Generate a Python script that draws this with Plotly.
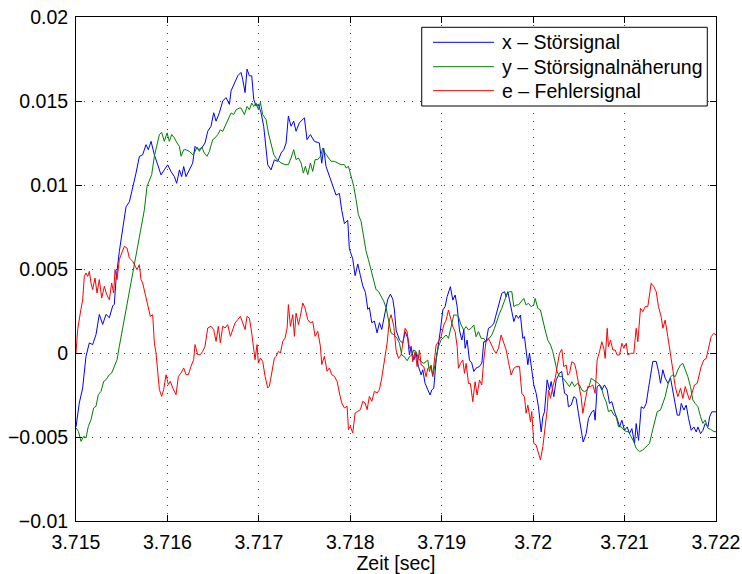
import plotly.graph_objects as go

# Time axis: milliseconds after t0 = 3.715 s; signal values in units of 1e-3
t0 = 3.715

# x - Störsignal
t_x = [0.000, 0.036, 0.073, 0.109, 0.146, 0.182, 0.219, 0.255, 0.292, 0.328, 0.365, 0.401, 0.419, 0.438, 0.474,
       0.511, 0.547, 0.584, 0.620, 0.656, 0.693, 0.729, 0.766, 0.791, 0.821, 0.857, 0.894, 0.930, 0.966, 1.003,
       1.039, 1.076, 1.101, 1.131, 1.156, 1.178, 1.203, 1.240, 1.276, 1.302, 1.338, 1.375, 1.411, 1.441, 1.477,
       1.506, 1.532, 1.568, 1.605, 1.641, 1.678, 1.696, 1.732, 1.769,
       1.805, 1.823, 1.849, 1.871, 1.896, 1.922, 1.944, 1.969, 1.995, 2.024, 2.053, 2.079, 2.097, 2.133, 2.170,
       2.206, 2.243, 2.272, 2.298, 2.323, 2.352, 2.381, 2.407, 2.443, 2.498, 2.527, 2.564, 2.607, 2.662, 2.688,
       2.709, 2.735, 2.771, 2.808, 2.844, 2.881, 2.906, 2.936, 2.972, 2.990, 3.027, 3.053, 3.082, 3.111, 3.136,
       3.166, 3.191, 3.209, 3.235, 3.264, 3.293, 3.319, 3.344, 3.373, 3.410, 3.439, 3.465,
       3.483, 3.501, 3.538, 3.574, 3.600, 3.629, 3.647, 3.665, 3.694, 3.720, 3.745, 3.775, 3.793, 3.818, 3.848,
       3.873, 3.891, 3.913, 3.939, 3.964, 3.986, 4.012, 4.037, 4.059, 4.084, 4.095, 4.121, 4.147, 4.169, 4.194,
       4.220, 4.242, 4.256, 4.278, 4.303, 4.329, 4.351, 4.376, 4.413, 4.439, 4.460, 4.486, 4.511, 4.541, 4.570,
       4.595, 4.632, 4.657, 4.687, 4.705, 4.723, 4.741, 4.767, 4.789, 4.814, 4.840, 4.861, 4.887, 4.905, 4.923,
       4.942, 4.960, 4.986, 5.007, 5.033, 5.058, 5.088, 5.106, 5.124, 5.153, 5.179, 5.197, 5.226, 5.252,
       5.288, 5.313, 5.343, 5.372, 5.386, 5.416, 5.445, 5.470, 5.496, 5.525, 5.547, 5.580, 5.605, 5.642, 5.664,
       5.678, 5.700, 5.726, 5.751, 5.780, 5.810, 5.835, 5.861, 5.890, 5.919, 5.945, 5.970, 5.999, 6.029, 6.054,
       6.080, 6.109, 6.127, 6.153, 6.182, 6.211, 6.237, 6.262, 6.291, 6.309, 6.346, 6.372, 6.393, 6.419, 6.444,
       6.474, 6.503, 6.528, 6.554, 6.576, 6.601, 6.620, 6.649, 6.674, 6.700, 6.729, 6.758, 6.784, 6.802, 6.831,
       6.857, 6.882, 6.912, 6.930, 6.955, 6.984, 7.000]
v_x = [-4.4, -2.98, -2.08, -0.2, 0.6, 0.5, 1.1, 2.3, 1.7, 2.3, 2.1, 2.8, 2.9, 4.4, 6.05,
       7.3, 8.7, 9.0, 9.8, 10.7, 11.7, 11.8, 12.4, 12.1, 12.6, 11.8, 11.2, 10.6, 10.9, 11.2,
       10.8, 10.5, 10.1, 10.9, 10.5, 11.1, 10.5, 10.9, 11.3, 12.3, 12.1, 12.2, 12.5, 13.2, 13.5,
       14.3, 13.8, 14.3, 15.0, 15.2, 14.8, 15.6, 16.1, 16.5,
       16.7, 16.3, 15.5, 16.9, 16.5, 16.5, 15.1, 14.7, 14.8, 14.3, 13.5, 12.1, 11.2, 10.9, 11.5,
       11.4, 11.9, 12.1, 12.5, 14.1, 13.5, 13.8, 13.2, 13.7, 14.0, 12.7, 13.0, 12.6, 12.5, 11.3,
       12.2, 11.1, 10.5, 9.9, 9.4, 9.5, 8.5, 7.7, 7.9, 6.2, 5.6, 4.6, 5.3, 4.6, 4.0,
       3.6, 2.6, 2.7, 1.8, 1.9, 1.2, 1.8, 1.4, 2.2, 3.2, 3.5, 3.2,
       2.56, 1.37, 0.77, 0.58, 1.27, 0.87, -0.12, 0.38, -0.42, 0.0, -0.8, -1.3, -1.0, -1.8, -2.2,
       -2.5, -2.2, -2.1, -0.42, 0.48, 1.37, 2.56, 2.76, 3.35, 3.85, 3.95, 3.15, 3.45, 2.76, 1.37,
       0.77, 1.37, 0.28, 0.77, -0.42, -0.6, -1.1, -0.9, -0.8, -0.6, 0.67, 0.67, 1.47, 1.57, 1.77,
       2.26, 3.15, 3.55, 3.65, 3.35, 3.65, 3.15, 2.46, 1.87, 2.26, 2.06, 2.26, 0.87, 0.97, 0.0,
       -0.7, 0.0, -1.0, -1.9, -2.4, -3.2, -4.7, -3.8, -3.5, -1.6, -2.2, -1.7, -2.6, -1.6,
       -1.2, -1.1, -2.4, -2.5, -3.2, -3.1, -2.6, -2.7, -3.6, -4.6, -5.3, -4.8, -3.9, -3.5, -3.4,
       -4.0, -2.0, -1.9, -2.2, -1.9, -2.2, -3.0, -2.9, -3.5, -3.9, -4.4, -4.0, -4.6, -4.4, -4.8,
       -4.5, -5.4, -4.2, -5.2, -3.2, -3.3, -3.0, -2.1, -1.0, -0.5, -0.5, -1.1, -1.8, -1.0, -1.5,
       -1.8, -1.5, -2.2, -3.0, -3.7, -3.7, -3.0, -3.4, -3.1, -3.9, -4.6, -4.4, -4.7, -4.4, -4.8,
       -4.6, -4.2, -4.4, -3.8, -3.5, -3.5, -3.5]

# y - Störsignalnäherung
t_y = [0.000, 0.026, 0.055, 0.084, 0.109, 0.135, 0.164, 0.193, 0.219, 0.244, 0.274, 0.303, 0.328, 0.365, 0.390,
       0.419, 0.449, 0.474, 0.500, 0.529, 0.558, 0.584, 0.609, 0.638, 0.667, 0.693, 0.718, 0.748, 0.777, 0.802,
       0.828, 0.857, 0.886, 0.912, 0.937, 0.966, 0.996, 1.021, 1.047, 1.076, 1.105, 1.131, 1.149, 1.178, 1.204,
       1.240, 1.276, 1.302, 1.324, 1.349, 1.375, 1.404, 1.433, 1.459, 1.495, 1.521, 1.550, 1.579, 1.605, 1.641,
       1.667, 1.696, 1.725, 1.751, 1.787,
       1.805, 1.842, 1.871, 1.896, 1.922, 1.944, 1.969, 1.995, 2.017, 2.042, 2.079, 2.104, 2.133, 2.163, 2.199,
       2.243, 2.287, 2.323, 2.352, 2.381, 2.407, 2.433, 2.462, 2.487, 2.509, 2.535, 2.564, 2.589, 2.615, 2.644,
       2.673, 2.699, 2.724, 2.753, 2.790, 2.826, 2.863, 2.899, 2.936, 2.954, 2.980, 3.009, 3.038, 3.063, 3.089,
       3.118, 3.147, 3.173, 3.198, 3.227, 3.257, 3.282, 3.308, 3.337, 3.366, 3.392, 3.417, 3.446, 3.476,
       3.512, 3.538, 3.563, 3.592, 3.621, 3.647, 3.673, 3.694, 3.720, 3.745, 3.775, 3.804, 3.829, 3.848, 3.866,
       3.884, 3.902, 3.921, 3.939, 3.964, 3.993, 4.023, 4.048, 4.074, 4.103, 4.132, 4.158, 4.183, 4.212, 4.241,
       4.267, 4.293, 4.322, 4.351, 4.376, 4.402, 4.431, 4.460, 4.486, 4.522, 4.548, 4.577, 4.606, 4.632, 4.657,
       4.686, 4.716, 4.741, 4.767, 4.789, 4.814, 4.840, 4.869, 4.898, 4.923, 4.949, 4.978, 5.007, 5.022, 5.051,
       5.080, 5.106, 5.131, 5.160, 5.190, 5.215, 5.241, 5.263, 5.288,
       5.314, 5.343, 5.372, 5.398, 5.423, 5.452, 5.481, 5.507, 5.532, 5.562, 5.591, 5.616, 5.635, 5.664, 5.689,
       5.715, 5.744, 5.773, 5.799, 5.824, 5.853, 5.883, 5.908, 5.934, 5.963, 5.992, 6.018, 6.043, 6.072, 6.101,
       6.127, 6.163, 6.200, 6.236, 6.273, 6.298, 6.327, 6.357, 6.393, 6.419, 6.444, 6.473, 6.503, 6.528, 6.554,
       6.583, 6.612, 6.638, 6.663, 6.692, 6.721, 6.747, 6.772, 6.802, 6.831, 6.856, 6.882, 6.911, 6.940, 6.977,
       7.000]
v_y = [-4.46, -4.66, -5.26, -4.96, -5.06, -4.37, -3.97, -3.27, -3.17, -2.48, -2.28, -1.69, -1.59, -1.29, -1.19,
       -0.79, -0.40, 0.40, 1.19, 1.98, 2.78, 3.57, 4.37, 5.16, 6.15, 6.94, 7.64, 8.53, 9.92, 10.32,
       10.62, 11.71, 12.50, 13.00, 13.13, 12.60, 13.10, 12.60, 13.00, 12.80, 12.50, 12.30, 11.71, 12.10, 12.10,
       12.00, 11.81, 12.00, 12.26, 12.00, 12.26, 11.90, 11.71, 12.00, 12.70, 12.80, 13.00, 13.29, 13.19, 13.59,
       13.89, 14.29, 14.19, 14.48, 14.58,
       14.58, 14.19, 14.68, 14.48, 14.88, 14.68, 14.88, 14.48, 14.92, 14.19, 13.89, 13.10, 12.40, 11.81, 11.51,
       11.31, 11.21, 11.21, 11.61, 12.10, 11.51, 11.61, 11.31, 10.71, 11.11, 10.62, 11.31, 10.81, 11.51, 11.51,
       11.71, 12.20, 11.90, 11.71, 11.41, 11.41, 11.31, 11.21, 11.21, 11.01, 11.11, 10.52, 9.92, 9.13, 8.23,
       7.84, 6.75, 6.05, 5.56, 4.96, 4.27, 3.77, 3.67, 3.37, 3.08, 2.68, 2.08, 1.19, 1.09,
       0.87, 0.58, -0.12, -0.22, -0.46, -0.22, -0.12, 0.18, 0.08, -0.32, -0.52, -0.62, -0.52, -0.42, -1.11,
       -0.71, -1.41, -0.81, -0.22, 0.38, 0.77, 0.97, 1.07, 0.87, 1.67, 2.26, 2.26, 2.16, 1.67, 1.37,
       1.57, 1.37, 1.47, 1.67, 0.97, 1.27, 0.87, 0.87, 0.67, 0.87, 1.07, 1.47, 1.96, 2.36, 2.66,
       3.15, 3.55, 3.65, 3.65, 2.76, 2.86, 2.86, 3.06, 3.25, 2.86, 2.96, 2.76, 2.86, 3.25, 2.66,
       2.56, 1.87, 1.37, 0.77, 0.48, 0.08, -0.52, -1.11, -1.41,
       -1.41, -1.61, -1.81, -2.00, -1.71, -2.00, -1.81, -1.90, -2.20, -2.30, -2.20, -1.90, -1.51, -1.61, -1.71,
       -1.81, -2.00, -2.60, -2.90, -3.49, -3.39, -3.69, -3.79, -4.39, -4.39, -4.58, -4.68, -4.68, -4.98, -5.28,
       -5.68, -5.87, -5.77, -5.58, -5.38, -4.78, -4.09, -3.49, -3.39, -3.00, -2.60, -1.90, -1.41, -1.31, -1.41,
       -1.01, -0.71, -0.62, -1.01, -1.41, -2.00, -2.80, -3.00, -3.19, -3.79, -4.19, -3.99, -4.48, -4.54, -4.68,
       -4.68]

# e - Fehlersignal
t_e = [0.000, 0.018, 0.047, 0.073, 0.091, 0.109, 0.128, 0.146, 0.164, 0.182, 0.208, 0.230, 0.255, 0.281, 0.310,
       0.336, 0.365, 0.390, 0.412, 0.427, 0.449, 0.474, 0.500, 0.529, 0.558, 0.584, 0.620, 0.646, 0.667, 0.693,
       0.711, 0.729, 0.755, 0.784, 0.813, 0.839, 0.857, 0.875, 0.894, 0.912, 0.937, 0.959, 0.985, 1.010, 1.032,
       1.058, 1.094, 1.120, 1.149, 1.178, 1.204, 1.229, 1.258, 1.287, 1.302, 1.331, 1.360, 1.386, 1.411, 1.441,
       1.477, 1.506, 1.532, 1.557, 1.579, 1.605, 1.630, 1.659, 1.689, 1.714, 1.740, 1.769,
       1.798, 1.824, 1.849, 1.871, 1.896, 1.922, 1.944, 1.958, 1.980, 1.995, 2.017, 2.042, 2.068, 2.097, 2.115,
       2.141, 2.170, 2.188, 2.214, 2.236, 2.261, 2.287, 2.309, 2.323, 2.345, 2.371, 2.389, 2.407, 2.433, 2.454,
       2.480, 2.505, 2.535, 2.564, 2.589, 2.615, 2.644, 2.673, 2.688, 2.717, 2.746, 2.772, 2.797, 2.826, 2.856,
       2.881, 2.907, 2.936, 2.965, 2.980, 3.001, 3.027, 3.053, 3.082, 3.111, 3.136, 3.162, 3.184, 3.209, 3.235,
       3.264, 3.293, 3.319, 3.344, 3.373, 3.403, 3.428, 3.446, 3.476,
       3.501, 3.527, 3.556, 3.585, 3.600, 3.621, 3.647, 3.665, 3.683, 3.709, 3.731, 3.756, 3.775, 3.804, 3.829,
       3.848, 3.877, 3.902, 3.921, 3.939, 3.964, 3.993, 4.023, 4.048, 4.074, 4.096, 4.121, 4.147, 4.169, 4.183,
       4.205, 4.231, 4.249, 4.267, 4.293, 4.314, 4.340, 4.365, 4.387, 4.413, 4.438, 4.460, 4.486, 4.511, 4.541,
       4.570, 4.595, 4.621, 4.650, 4.679, 4.705, 4.730, 4.759, 4.789, 4.814, 4.851, 4.876, 4.905, 4.923, 4.942,
       4.971, 4.985, 5.007, 5.033, 5.058, 5.080, 5.106, 5.131, 5.153, 5.168, 5.190, 5.215, 5.241, 5.263, 5.288,
       5.314, 5.335, 5.361, 5.379, 5.398, 5.423, 5.452, 5.470, 5.496, 5.525, 5.543, 5.569, 5.598, 5.627, 5.653,
       5.678, 5.700, 5.726, 5.751, 5.773, 5.788, 5.810, 5.824, 5.846, 5.872, 5.897, 5.919, 5.945, 5.970, 5.992,
       6.018, 6.036, 6.065, 6.101, 6.127, 6.145, 6.174, 6.200, 6.225, 6.254, 6.273, 6.291, 6.320, 6.346, 6.371,
       6.400, 6.419, 6.444, 6.473, 6.503, 6.528, 6.554, 6.583, 6.612, 6.638, 6.663, 6.685, 6.710, 6.736, 6.765,
       6.794, 6.809, 6.838, 6.867, 6.893, 6.918, 6.947, 6.977, 7.000]
v_e = [0.0, 1.39, 2.38, 3.17, 4.56, 4.76, 4.56, 4.86, 4.17, 3.77, 4.46, 3.57, 4.37, 3.27, 3.97,
       3.47, 3.17, 4.17, 3.57, 4.96, 4.37, 5.56, 5.95, 6.35, 6.25, 5.65, 5.46, 5.16, 4.96, 5.26,
       4.37, 4.17, 3.57, 2.78, 2.18, 2.28, 0.60, 0.00, -1.19, -2.18, -2.58, -2.18, -1.29, -1.88, -1.69,
       -2.08, -2.48, -1.39, -1.19, -0.89, -1.29, -1.29, -0.79, -0.40, 0.50, -0.10, -0.10, 0.10, 0.40, 1.49,
       1.59, 1.39, 0.69, 1.59, 0.60, 1.59, 1.49, 1.69, 0.99, 1.39, 1.79, 1.98,
       2.18, 1.79, 1.39, 2.18, 2.08, 1.19, 0.40, -0.40, 0.50, -0.60, -0.30, -0.50, -1.39, -2.08, -1.98,
       -1.19, -0.30, -0.20, 0.10, 0.00, 0.69, 0.89, 1.49, 2.88, 1.59, 2.28, 0.99, 2.38, 1.69, 2.18,
       2.98, 2.68, 1.98, 1.79, 1.88, 0.99, 1.29, 0.40, -0.69, -0.20, -1.09, -0.89, -1.29, -1.39, -1.69,
       -2.38, -2.98, -3.27, -3.17, -4.56, -4.37, -4.76, -3.57, -3.47, -3.37, -2.88, -2.98, -3.37, -2.58, -2.88,
       -2.28, -2.38, -2.18, -1.49, -0.40, 0.60, 1.98, 2.28, 1.59,
       0.18, -0.32, -0.12, 0.97, 1.47, 1.27, 0.28, 0.38, -0.52, 0.08, -0.81, 0.18, -0.71, -0.81, -1.41,
       -0.91, -0.81, -1.31, -0.42, 0.48, 0.67, 0.97, 1.67, 1.96, 2.56, 2.06, 1.57, 1.27, 0.38, -0.91,
       -0.62, -0.42, -1.21, -0.62, -1.81, -1.81, -2.90, -1.71, -2.50, -1.61, -1.90, -0.42, 0.77, 0.87, 0.48,
       0.18, -0.02, 0.28, 1.07, 0.58, 0.18, -0.52, -1.31, -0.91, -0.81, -0.81, -2.40, -2.60, -3.59, -3.10,
       -4.09, -3.49, -5.38, -5.48, -5.97, -6.37, -5.58, -4.58, -3.39, -2.20, -2.70, -2.00, -1.51, -0.81, -0.02,
       0.22, -0.81, -0.71, -1.31, -1.21, -0.52, -0.62, -1.01, -1.81, -2.60, -3.59, -2.80, -2.00, -2.00, -1.90,
       -2.40, -0.42, 0.08, 0.67, 0.28, -0.32, 1.47, 0.38, 0.77, 0.18, 0.18, -0.12, -0.12, 0.58, 0.28,
       0.58, -0.12, -0.02, -0.02, 1.47, 0.67, 2.66, 2.46, 2.76, 2.76, 3.35, 4.15, 3.95, 3.65, 2.76,
       2.16, 1.47, 1.96, 0.97, -0.02, -1.01, -2.00, -2.60, -2.10, -2.70, -2.00, -2.40, -2.80, -2.40, -1.90,
       -1.81, -1.41, -0.81, -0.42, -0.32, 0.28, 0.97, 1.17, 1.07]

x_ticks = [3.715, 3.716, 3.717, 3.718, 3.719, 3.720, 3.721, 3.722]
x_ticktext = ["3.715", "3.716", "3.717", "3.718", "3.719", "3.72", "3.721", "3.722"]
y_ticks = [-0.01, -0.005, 0.0, 0.005, 0.01, 0.015, 0.02]
y_ticktext = ["\u22120.01", "\u22120.005", "0", "0.005", "0.01", "0.015", "0.02"]

series = [
    ("x \u2013 Störsignal", t_x, v_x, "#0000ff"),
    ("y \u2013 Störsignalnäherung", t_y, v_y, "#008000"),
    ("e \u2013 Fehlersignal", t_e, v_e, "#ff0000"),
]

FONT = "Liberation Sans, Arial, Helvetica, sans-serif"
FS = 19.5

fig = go.Figure()
for name, t_ms, vals, color in series:
    fig.add_trace(go.Scatter(
        x=[t0 + t / 1000.0 for t in t_ms],
        y=[v * 1e-3 for v in vals],
        mode="lines",
        name=name,
        line=dict(color=color, width=1),
    ))

axis_common = dict(
    showline=True, linecolor="black", linewidth=1, mirror="ticks",
    ticks="inside", ticklen=6, tickcolor="black", tickwidth=1,
    showgrid=True, gridcolor="#444444", gridwidth=1, griddash="1px,7px",
    zeroline=False, automargin=False,
    tickfont=dict(family=FONT, size=FS, color="black"),
)

fig.update_xaxes(
    range=[3.715, 3.722], tickvals=x_ticks, ticktext=x_ticktext,
    title=dict(text="Zeit [sec]", font=dict(family=FONT, size=FS, color="black"), standoff=6),
    ticklabelstandoff=4,
    **axis_common,
)
fig.update_yaxes(
    range=[-0.01, 0.02], tickvals=y_ticks, ticktext=y_ticktext,
    ticklabelstandoff=3,
    **axis_common,
)

# Legend box drawn in the upper right of the axes (paper coordinates)
box = dict(x0=0.5402, x1=0.9864, y0=0.8234, y1=0.9796)
sample_x0, sample_x1, text_x = 0.5578, 0.6531, 0.6625
rows_y = [0.9498, 0.9014, 0.8538]

shapes = [dict(type="rect", xref="paper", yref="paper", layer="above",
               line=dict(color="black", width=1), fillcolor="white", **box)]
annotations = []
for (name, _, _, color), ry in zip(series, rows_y):
    shapes.append(dict(type="line", xref="paper", yref="paper", layer="above",
                       x0=sample_x0, x1=sample_x1, y0=ry, y1=ry,
                       line=dict(color=color, width=1)))
    annotations.append(dict(xref="paper", yref="paper", x=text_x, y=ry,
                            xanchor="left", yanchor="middle", showarrow=False,
                            text=name, font=dict(family=FONT, size=FS, color="black")))

fig.update_layout(
    width=742, height=574,
    margin=dict(l=76, r=26, t=17, b=53),
    paper_bgcolor="white", plot_bgcolor="white",
    font=dict(family=FONT, size=FS, color="black"),
    showlegend=False,
    shapes=shapes,
    annotations=annotations,
)

fig.write_html("out.html")
